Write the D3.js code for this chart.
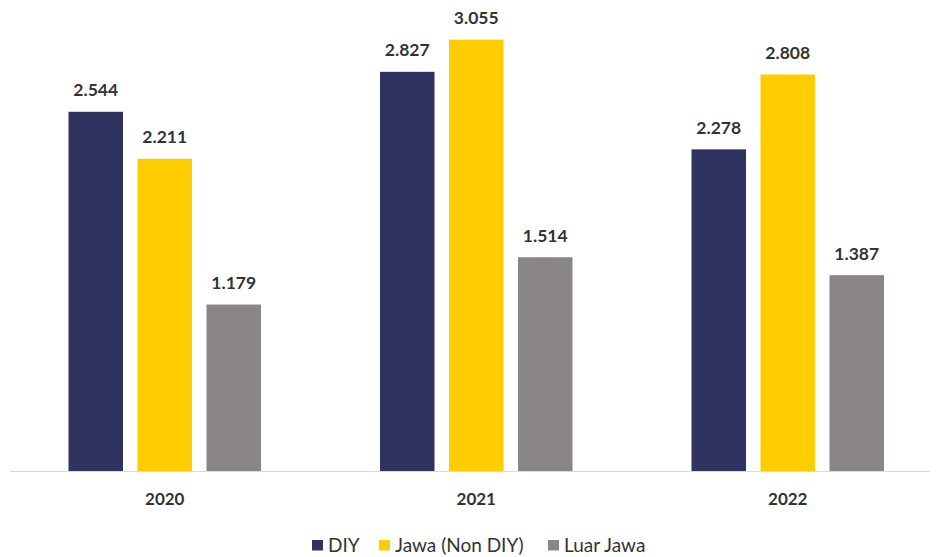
<!DOCTYPE html>
<html>
<head>
<meta charset="utf-8">
<script src="https://cdn.jsdelivr.net/npm/d3@7"></script>
<style>
  html, body { margin: 0; padding: 0; background: #fff; }
  svg { display: block; font-family: Lato, "Open Sans", sans-serif; }
</style>
</head>
<body>
<svg id="chart" width="937" height="557"></svg>
<script>
const years = ["2020", "2021", "2022"];
const seriesNames = ["DIY", "Jawa (Non DIY)", "Luar Jawa"];
const diy = [2.544, 2.827, 2.278];
const jawaNonDiy = [2.211, 3.055, 2.808];
const luarJawa = [1.179, 1.514, 1.387];
const colors = ["#30325f", "#ffcc00", "#8a8686"];

const seriesValues = [diy, jawaNonDiy, luarJawa];
const rows = years.map((yr, i) => ({
  year: yr,
  values: seriesNames.map((s, j) => ({ series: s, value: seriesValues[j][i] }))
}));

const svg = d3.select("#chart");
const baseY = 471;

const x0 = d3.scaleBand().domain(years).range([9, 943.5]).padding(0);
// Bars of one year sit together in the middle of the year band
const groupWidth = 192.5;
const x1 = d3.scaleBand().domain(seriesNames)
  .range([(x0.bandwidth() - groupWidth) / 2, (x0.bandwidth() + groupWidth) / 2])
  .paddingInner(0.21)
  .paddingOuter(0);

const y = d3.scaleLinear().domain([0, 3.3]).range([baseY, baseY - 3.3 * 141.2]);
const color = d3.scaleOrdinal().domain(seriesNames).range(colors);
const fmt = v => d3.format(".3f")(v);

// Baseline
svg.append("line")
  .attr("x1", 10).attr("x2", 930)
  .attr("y1", baseY + 0.5).attr("y2", baseY + 0.5)
  .attr("stroke", "#d9d9d9").attr("stroke-width", 1);

const groups = svg.append("g").selectAll("g")
  .data(rows).join("g")
  .attr("transform", d => `translate(${x0(d.year)},0)`);

groups.selectAll("rect")
  .data(d => d.values).join("rect")
  .attr("x", d => x1(d.series))
  .attr("width", x1.bandwidth())
  .attr("y", d => y(d.value))
  .attr("height", d => baseY - y(d.value))
  .attr("fill", d => color(d.series));

groups.selectAll("text.val")
  .data(d => d.values).join("text")
  .attr("class", "val")
  .attr("x", d => x1(d.series) + x1.bandwidth() / 2)
  .attr("y", d => y(d.value) - 15.5)
  .attr("text-anchor", "middle")
  .attr("font-size", 17.5)
  .attr("font-weight", "bold")
  .attr("fill", "#333")
  .text(d => fmt(d.value));

// Category axis labels
const xAxis = d3.axisBottom(x0).tickSize(0).tickPadding(0);
const gx = svg.append("g").attr("transform", `translate(0,${baseY})`).call(xAxis);
gx.select(".domain").remove();
gx.selectAll("text")
  .attr("y", 34)
  .attr("dy", 0)
  .attr("font-size", 17)
  .attr("font-weight", "bold")
  .attr("font-family", "Lato, 'Open Sans', sans-serif")
  .attr("fill", "#333");

// Legend
const legendX = [312, 379, 548];
const legend = svg.append("g").selectAll("g")
  .data(seriesNames).join("g")
  .attr("transform", (d, i) => `translate(${legendX[i]},551.5)`);
legend.append("rect")
  .attr("x", 0).attr("y", -11.5)
  .attr("width", 11).attr("height", 10.5)
  .attr("fill", d => color(d));
legend.append("text")
  .attr("x", 16).attr("y", 0)
  .attr("font-size", 19)
  .attr("fill", "#333")
  .text(d => d);
</script>
</body>
</html>
